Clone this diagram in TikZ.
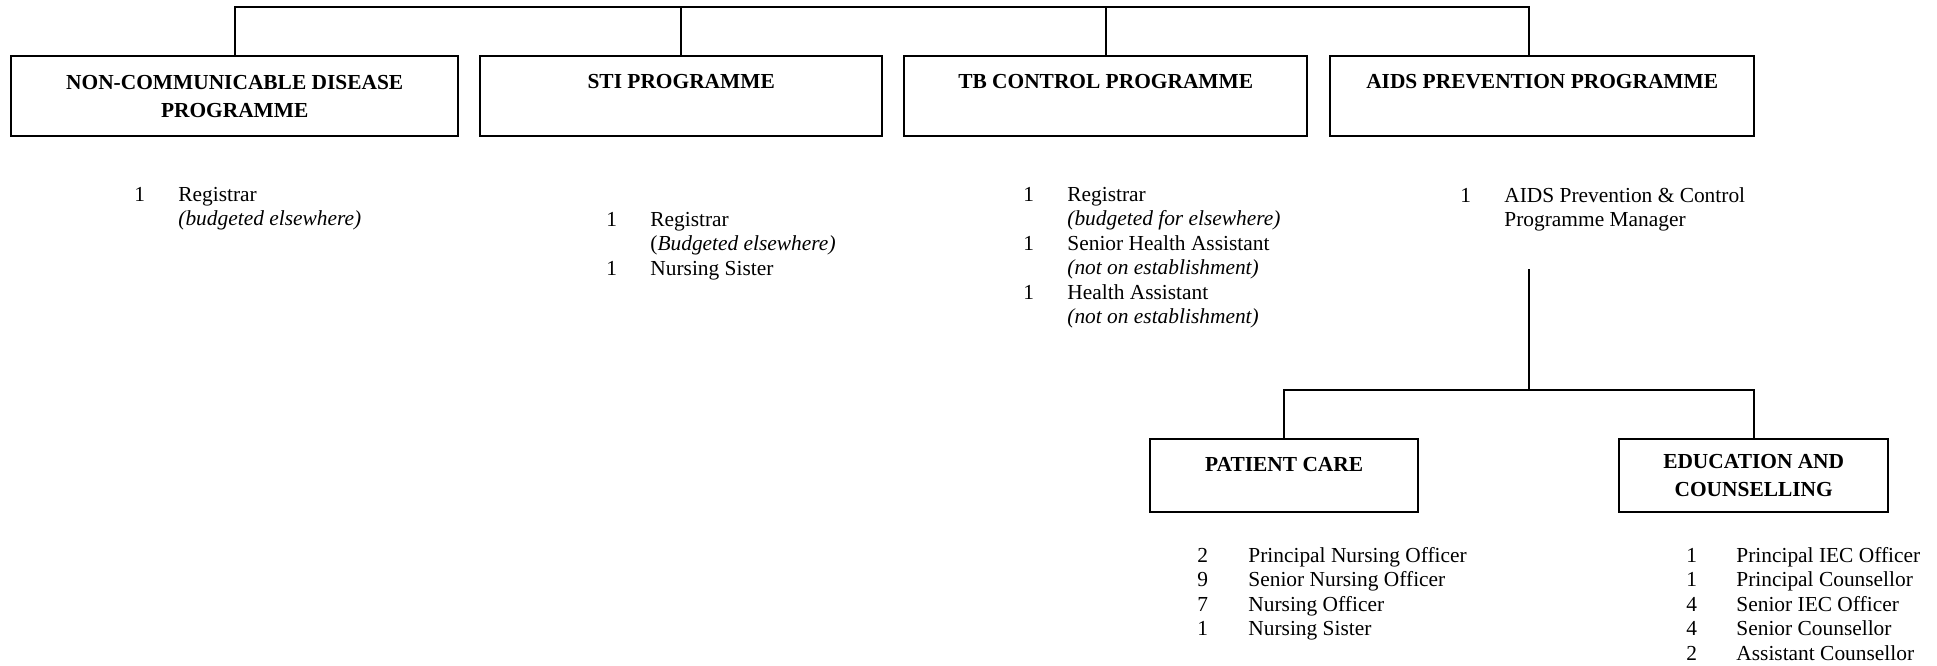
\documentclass[tikz,border=0pt]{standalone}
\usepackage{fontspec}
\setmainfont{Liberation Serif}

% type sizes: unit headings and staff lists
\newcommand\headfont{\bfseries\fontsize{10.7}{14}\selectfont}
\newcommand\stafffont{\fontsize{10.7}{12.25}\selectfont}

\begin{document}
\begin{tikzpicture}[x=0.5pt,y=-0.5pt,
  unitbox/.style={draw, line width=1.2pt, inner sep=0pt, font=\headfont,
    anchor=north west, minimum width=#1},
  onelinebox/.style={unitbox=#1, text height=16pt, text depth=24pt},
  twolinebox/.style={unitbox=#1, align=center, minimum height=40pt},
  staff/.style={anchor=base west, inner sep=0pt, font=\stafffont},
  link/.style={line width=1pt}]

\useasboundingbox (0,0) rectangle (1937,665);

% programme boxes
\node[twolinebox=223.5pt] (ncd) at (10,55) {NON-COMMUNICABLE DISEASE\\PROGRAMME};
\node[onelinebox=201pt] (sti) at (479,55) {STI PROGRAMME};
\node[onelinebox=201.5pt] (tb) at (903,55) {TB CONTROL PROGRAMME};
\node[onelinebox=212pt] (aids) at (1329,55) {AIDS PREVENTION PROGRAMME};

% sub-units of the AIDS programme
\node[onelinebox=134pt, text depth=20.5pt] (pc) at (1149,438) {PATIENT CARE};
\node[twolinebox=134.5pt, minimum height=36.5pt] (ec) at (1618,438) {EDUCATION AND\\COUNSELLING};

% staff lists
\node[staff] (ncdstaff) at (134,201) {\begin{tabular}[t]{@{}p{22pt}@{}l@{}}
1 & Registrar\\
  & \textit{(budgeted elsewhere)}
\end{tabular}};

\node[staff] (stistaff) at (606,226) {\begin{tabular}[t]{@{}p{22pt}@{}l@{}}
1 & Registrar\\
  & (\textit{Budgeted elsewhere)}\\
1 & Nursing Sister
\end{tabular}};

\node[staff] (tbstaff) at (1023,201) {\begin{tabular}[t]{@{}p{22pt}@{}l@{}}
1 & Registrar\\
  & \textit{(budgeted for elsewhere)}\\
1 & Senior Health Assistant\\
  & \textit{(not on establishment)}\\
1 & Health Assistant\\
  & \textit{(not on establishment)}
\end{tabular}};

\node[staff] (aidsstaff) at (1460,202) {\begin{tabular}[t]{@{}p{22pt}@{}l@{}}
1 & AIDS Prevention \& Control\\
  & Programme Manager
\end{tabular}};

\node[staff] (pcstaff) at (1197,562) {\begin{tabular}[t]{@{}p{25.5pt}@{}l@{}}
2 & Principal Nursing Officer\\
9 & Senior Nursing Officer\\
7 & Nursing Officer\\
1 & Nursing Sister
\end{tabular}};

\node[staff] (ecstaff) at (1686,562) {\begin{tabular}[t]{@{}p{25pt}@{}l@{}}
1 & Principal IEC Officer\\
1 & Principal Counsellor\\
4 & Senior IEC Officer\\
4 & Senior Counsellor\\
2 & Assistant Counsellor
\end{tabular}};

% connectors
\coordinate (barR) at (1529,7);
\draw[link] (ncd.north) |- (barR) -- (barR |- aids.north);
\draw[link] (sti.north) -- (sti.north |- barR);
\draw[link] (tb.north) -- (tb.north |- barR);

\coordinate (mgr) at (1529,269);
\coordinate (split) at (1529,390);
\draw[link] (mgr) -- (split);
\draw[link] (pc.north) -- (pc.north |- split) -- (ec.north |- split) -- (ec.north);
\end{tikzpicture}
\end{document}
